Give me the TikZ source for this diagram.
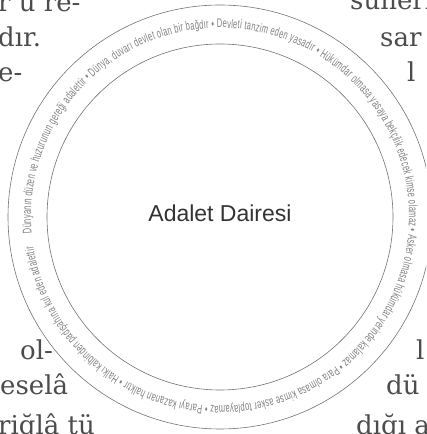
\documentclass[tikz,border=0pt]{standalone}
\usepackage{fontspec}
\setmainfont{DejaVu Serif}
\newfontfamily\ringfont[FakeStretch=0.6]{Liberation Sans}
\newfontfamily\titlefont{Liberation Sans}
\usetikzlibrary{decorations.text}

\begin{document}
\begin{tikzpicture}[
  x=1pt, y=1pt,
  pagetext/.style={anchor=base west, inner sep=0pt, text=black!70,
                   font=\fontsize{26}{30}\selectfont},
  ring/.style={draw=black!55, line width=0.6pt}
]
\useasboundingbox (0,0) rectangle (426,434);
\clip (0,0) rectangle (426,434);
\coordinate (ctr) at (220,217);

\node[pagetext] (tl1) at (-2,422) {r u re-};
\node[pagetext] (tl2) at (-2,387) {dır.};
\node[pagetext] (tl3) at (-2,352) {e-};
\node[pagetext] (tr1) at (350,424) {sünerin};
\node[pagetext] (tr2) at (380,387) {sar};
\node[pagetext] (tr3) at (407,352) {l};
\node[pagetext] (bl1) at (20,74) {ol-};
\node[pagetext] (bl2) at (0,39) {eselâ};
\node[pagetext] (bl3) at (-2,0) {riğlâ tü};
\node[pagetext] (br1) at (416,74) {l};
\node[pagetext] (br2) at (386,39) {dü};
\node[pagetext] (br3) at (356,0) {dığı ac};

\draw[ring] (ctr) circle[radius=212];
\draw[ring] (ctr) circle[radius=173];

\path[decorate, decoration={text along path, text align=fit to path, text color=black!50,
  text={|\ringfont\fontsize{12.5}{14}\selectfont|Dünyanın düzen ve huzurunun gereği adalettir • Dünya, duvarı devlet olan bir bağdır • Devleti tanzim eden yasadır • Hükümdar olmasa yasaya bekçilik edecek kimse olamaz • Asker olmasa hükümdar yerinde kalamaz • Para olmasa kimse asker toplayamaz • Parayı kazanan halktır • Halkı kalbinden padişahına kul eden adalettir •}}]
  ([shift={(185:189)}]ctr) arc[start angle=185, end angle=-172, radius=189];

\node[font=\titlefont\fontsize{23}{27}\selectfont, text=black!80] (title) at ([yshift=4]ctr) {Adalet Dairesi};
\end{tikzpicture}
\end{document}
